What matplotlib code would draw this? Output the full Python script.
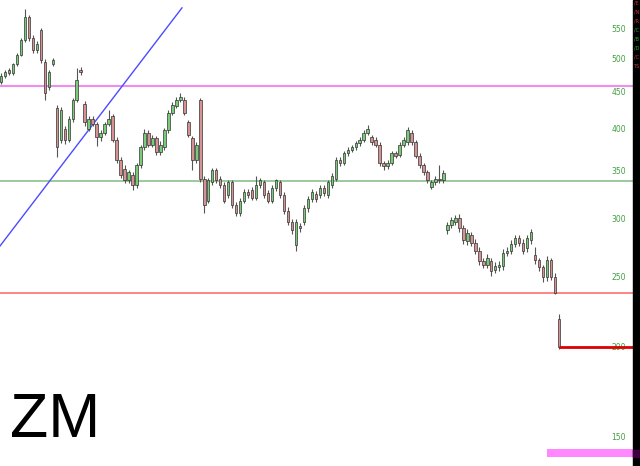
import numpy as np
import matplotlib.pyplot as plt
from matplotlib.patches import Rectangle
from matplotlib.transforms import blended_transform_factory

# ZM daily candles (prices)
opens = [465, 474, 483, 478, 492, 507, 532, 572, 535, 515,
         549, 496, 458, 492, 428, 387, 401, 387, 414, 439,
         483, 434, 401, 414, 407, 390, 396, 407, 417, 387,
         363, 353, 340, 346, 335, 357, 378, 396, 381, 389,
         372, 378, 399, 422, 431, 440, 440, 409, 389, 363,
         439, 342, 319, 338, 351, 342, 335, 325, 338, 314,
         307, 319, 328, 330, 322, 335, 338, 327, 319, 332,
         338, 325, 309, 298, 277, 294, 298, 311, 321, 326,
         325, 332, 325, 335, 342, 363, 360, 371, 375, 378,
         383, 387, 396, 390, 387, 381, 359, 356, 360, 371,
         369, 381, 384, 396, 384, 368, 357, 349, 333, 338,
         342, 340, 290, 295, 298, 302, 292, 280, 286, 279,
         272, 263, 260, 263, 256, 258, 259, 270, 272, 278,
         283, 279, 274, 281, 268, 264, 258, 250, 264, 250,
         219]
closes = [474, 480, 478, 492, 507, 532, 572, 535, 515, 525,
          499, 449, 480, 499, 378, 425, 387, 414, 439, 468,
          480, 409, 414, 407, 390, 396, 407, 414, 387, 363,
          346, 340, 349, 335, 357, 378, 396, 381, 389, 372,
          381, 399, 422, 432, 440, 443, 422, 393, 363, 381,
          342, 314, 340, 351, 340, 335, 319, 338, 314, 307,
          319, 328, 325, 322, 335, 340, 325, 319, 332, 340,
          325, 309, 298, 290, 298, 292, 311, 321, 328, 321,
          332, 327, 338, 345, 363, 359, 371, 375, 378, 383,
          387, 396, 401, 384, 381, 359, 356, 360, 371, 368,
          381, 387, 399, 384, 368, 357, 349, 340, 338, 342,
          340, 348, 295, 300, 302, 292, 281, 288, 279, 272,
          263, 260, 266, 255, 259, 260, 270, 272, 278, 283,
          279, 272, 283, 289, 264, 258, 250, 264, 250, 238,
          200]
highs = [478, 483, 486, 494, 510, 535, 587, 576, 540, 530,
         553, 500, 484, 502, 432, 430, 405, 418, 442, 486,
         488, 438, 418, 417, 410, 399, 410, 425, 420, 390,
         366, 357, 352, 349, 360, 381, 400, 399, 393, 392,
         385, 402, 425, 436, 444, 449, 444, 412, 392, 384,
         442, 345, 343, 354, 354, 345, 338, 341, 341, 317,
         322, 331, 331, 333, 345, 343, 341, 330, 335, 342,
         341, 328, 312, 301, 301, 297, 314, 324, 331, 329,
         335, 335, 341, 348, 366, 366, 374, 378, 381, 386,
         390, 399, 406, 393, 390, 384, 362, 363, 374, 374,
         384, 390, 403, 399, 387, 371, 360, 352, 341, 345,
         357, 351, 298, 303, 305, 306, 295, 291, 289, 282,
         275, 266, 269, 266, 262, 263, 273, 275, 281, 286,
         286, 282, 286, 291, 275, 266, 260, 267, 266, 253,
         222]
lows = [462, 471, 475, 476, 490, 505, 528, 530, 510, 511,
        495, 439, 454, 490, 366, 383, 382, 384, 410, 436,
        476, 405, 398, 404, 379, 386, 393, 404, 384, 360,
        343, 337, 337, 330, 332, 354, 375, 378, 378, 369,
        369, 375, 396, 419, 428, 436, 419, 390, 351, 360,
        338, 307, 316, 335, 337, 332, 316, 322, 311, 304,
        304, 316, 322, 320, 320, 332, 322, 316, 316, 329,
        322, 306, 295, 287, 272, 289, 295, 308, 318, 318,
        322, 324, 322, 332, 339, 356, 357, 368, 372, 375,
        380, 384, 393, 381, 378, 356, 352, 353, 357, 365,
        366, 378, 381, 381, 365, 354, 346, 337, 331, 335,
        337, 337, 287, 292, 295, 289, 278, 277, 276, 269,
        260, 257, 257, 251, 253, 255, 256, 267, 269, 275,
        276, 269, 271, 278, 261, 255, 246, 247, 248, 237,
        199]

price_ticks = [150, 200, 250, 300, 350, 400, 450, 500, 550]

# drawn levels
level_magenta = 459
level_green = 339
level_red = 238
level_support = 200

o = np.array(opens, dtype=float)
c = np.array(closes, dtype=float)
h = np.array(highs, dtype=float)
l = np.array(lows, dtype=float)
x = np.arange(len(c))

fig = plt.figure(figsize=(6.4, 4.66), dpi=100)
ax = fig.add_axes([0, 0, 633 / 640, 1])
ax.set_yscale("log")
ax.set_xlim(-0.25, 158.56)
ax.set_ylim(137, 604)
ax.axis("off")

# horizontal levels
ax.axhline(level_magenta, color="#f08cf0", lw=1.5, zorder=1)
ax.axhline(level_green, color="#8cc08c", lw=1.2, zorder=1)
ax.axhline(level_red, color="#ff7070", lw=1.2, zorder=1)
ax.hlines(level_support, 140, 158.56, color="#dd0000", lw=2, zorder=4)
ax.fill_between([137, 158.56], 141, 144.5, color="#ff88ff", lw=0, zorder=1)

# trend line
ax.plot([-0.25, 45.4], [276, 589], color="#4b4bff", lw=1, zorder=1)

# candles
up = c >= o
fill = np.where(up, "#78cc78", "#d69292")
bottom = np.minimum(o, c)
height = np.maximum(np.abs(c - o), 1.0)
ax.vlines(x, l, h, color="#555555", lw=0.8, zorder=2)
ax.bar(x, height, bottom=bottom, width=0.62, color=fill,
       edgecolor="#333333", linewidth=0.5, zorder=3)

# price labels inside the plot
tr = blended_transform_factory(ax.transAxes, ax.transData)
for p in price_ticks:
    ax.text(0.989, p, str(p), transform=tr, ha="right", va="center",
            fontsize=5.5, color="#3f9f3f")

ax.text(10 / 633, 0.0622, "ZM", transform=ax.transAxes,
        fontsize=45, family="Liberation Sans", color="black",
        va="baseline", ha="left")

# dark side strip
fig.add_artist(Rectangle((633 / 640, 0), 7 / 640, 1, transform=fig.transFigure,
                         color="black", zorder=5))
fig.add_artist(Rectangle((633 / 640, 1 - 457 / 466), 7 / 640, 7 / 466,
                         transform=fig.transFigure, color="#400040", zorder=6))
strip_labels = ["/E", "/N", "/R", "/C", "/B", "/D", "/C", "TS"]
strip_colors = ["#cc3333", "#cc3333", "#cc3333", "#33aa33",
                "#33aa33", "#33aa33", "#cc3333", "#cc3333"]
for k, (s, col) in enumerate(zip(strip_labels, strip_colors)):
    fig.text(633.5 / 640, 1 - (3 + 9.0 * k) / 466, s, color=col, fontsize=3.5,
             va="center", ha="left", zorder=7)

fig.savefig("out.png", dpi=100)
